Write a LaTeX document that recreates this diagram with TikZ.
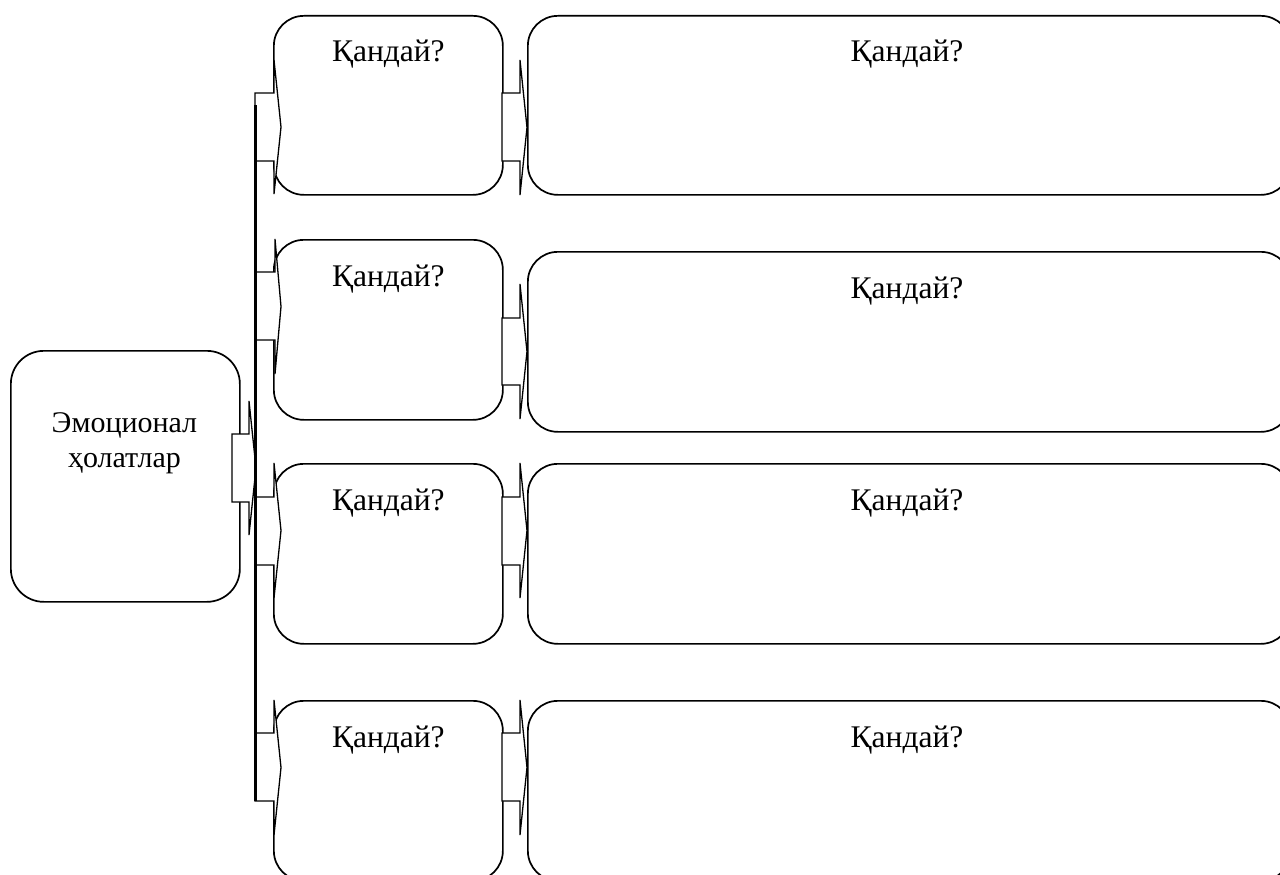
\documentclass[tikz,border=0pt]{standalone}
\usepackage{fontspec}
\setmainfont{Liberation Serif}
\begin{document}
\begin{tikzpicture}[x=1pt,y=-1pt]
\tikzset{
  box/.style={draw, line width=1.7pt, rounded corners=30pt, inner sep=0pt, anchor=north west},
  lbl/.style={font=\fontsize{30}{35}\selectfont, inner sep=0pt},
  qlbl/.style={font=\fontsize{31.5}{36}\selectfont, inner sep=0pt, anchor=base},
  barrow/.style={draw, fill=white, line width=1.3pt, line join=miter},
  trunk/.style={line width=3pt}
}
\newcommand\blockarr[7]{%
  \draw[barrow] (#1,#4) -- (#2,#4) -- (#2,#6) -- (#3,{(#6+#7)/2}) -- (#2,#7) -- (#2,#5) -- (#1,#5) -- cycle;}
\useasboundingbox (0,0) rectangle (1280,875);
% left box
\node[box, rounded corners=33pt, minimum width=229pt, minimum height=251pt] (L) at (10,350) {};
\node[lbl, align=center, anchor=north] (Lt) at (124.5,412) {Эмоционал\\ҳолатлар};
% middle boxes
\node[box, minimum width=229pt, minimum height=179pt] (m1) at (273,15) {};
\node[box, minimum width=229pt, minimum height=180pt] (m2) at (273,239) {};
\node[box, minimum width=229pt, minimum height=180pt] (m3) at (273,463) {};
\node[box, minimum width=229pt, minimum height=180pt] (m4) at (273,700) {};
% right boxes
\node[box, minimum width=763pt, minimum height=179pt] (r1) at (527,15) {};
\node[box, minimum width=763pt, minimum height=180pt] (r2) at (527,251) {};
\node[box, minimum width=763pt, minimum height=180pt] (r3) at (527,463) {};
\node[box, minimum width=763pt, minimum height=180pt] (r4) at (527,700) {};
% labels
\foreach \b in {m1,m2,m3,m4}{
  \node[qlbl] (\b t) at ([yshift=-47pt]\b.north) {Қандай?};
}
\node[qlbl] (r1t) at ([yshift=-47pt]r1.north -| 907,0) {Қандай?};
\node[qlbl] (r2t) at ([yshift=-47pt]r2.north -| 907,0) {Қандай?};
\node[qlbl] (r3t) at ([yshift=-47pt]r3.north -| 907,0) {Қандай?};
\node[qlbl] (r4t) at ([yshift=-47pt]r4.north -| 907,0) {Қандай?};
% arrows
\blockarr{232}{249}{256}{434}{502}{401}{535}
\blockarr{255}{274}{281}{93}{161}{60}{194}
\blockarr{255}{275}{281}{272}{340}{239}{374}
\blockarr{255}{274}{281}{497}{565}{463}{598}
\blockarr{255}{274}{281}{733}{801}{700}{835}
\blockarr{502}{520}{527}{93}{161}{60}{195}
\blockarr{502}{520}{527}{318}{385}{284}{419}
\blockarr{502}{520}{527}{497}{565}{463}{598}
\blockarr{502}{520}{527}{733}{801}{700}{835}
% trunk
\coordinate (tt) at (255,105);
\coordinate (tb) at (255,801);
\draw[trunk] (tt) -- (tb);
\end{tikzpicture}
\end{document}
